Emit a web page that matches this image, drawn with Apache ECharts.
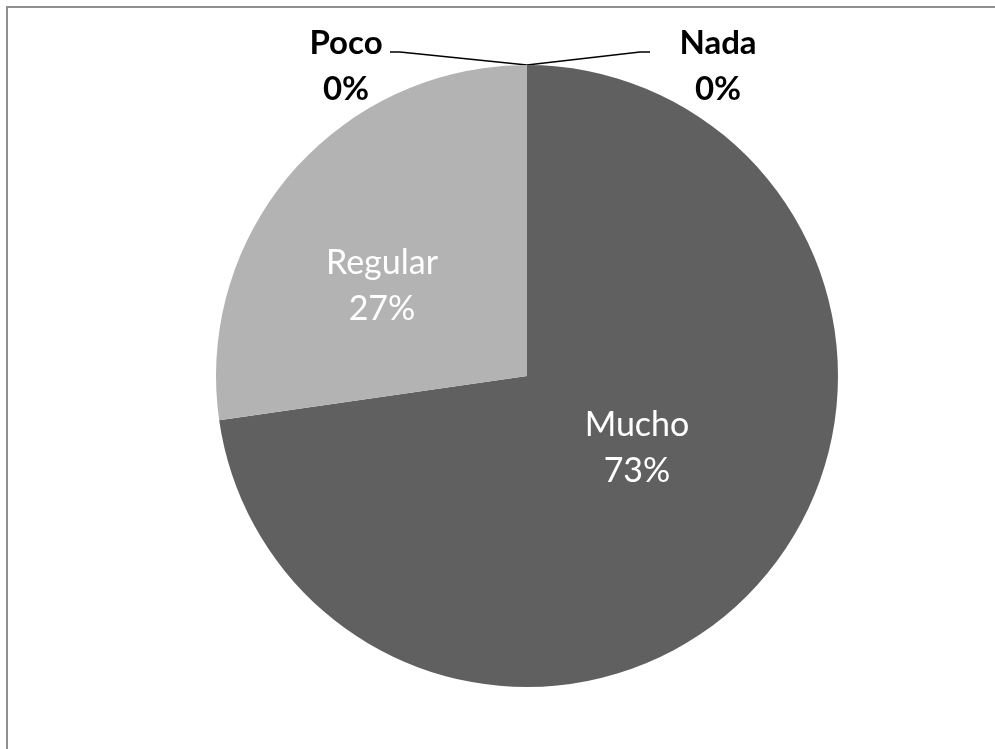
<!DOCTYPE html>
<html>
<head>
<meta charset="utf-8">
<script src="https://cdn.jsdelivr.net/npm/echarts@6/dist/echarts.min.js"></script>
<style>
  html, body { margin: 0; padding: 0; background: #ffffff; }
  #chart { width: 995px; height: 749px; }
</style>
</head>
<body>
<div id="chart"></div>
<script>
// Survey answers (number of responses), in the order the slices run clockwise from 12 o'clock
const categories = ['Nada', 'Mucho', 'Regular', 'Poco'];
const values = [0, 8, 3, 0];
const sliceColors = ['#4a4a4a', '#606060', '#b3b3b3', '#8a8a8a'];

// Pie geometry
const CX = 527, CY = 376, R = 311;

// Where each label block sits, as an offset from the pie centre
const labelOffsets = {
  Nada: [191, -310],
  Poco: [-181, -310],
  Regular: [-145, -90],
  Mucho: [110, 72]
};
// Outer end of the guide lines of the outside labels: [x offset, y offset, elbow direction]
const guideEnds = {
  Nada: [123, -324, -1],
  Poco: [-137, -324, 1]
};
const ELBOW = 10;

const FONT = 'Lato, "Open Sans", sans-serif';

function pct(p) {
  return p.name + '\n' + Math.round(p.percent) + '%';
}

const seriesData = categories.map(function (name, i) {
  const outside = !!guideEnds[name];
  return {
    name: name,
    value: values[i],
    itemStyle: { color: sliceColors[i], borderWidth: 0 },
    label: outside ? {
      show: true,
      position: 'outside',
      formatter: pct,
      color: '#000000',
      fontFamily: FONT,
      fontWeight: 'bold',
      fontSize: 33,
      lineHeight: 46
    } : {
      show: true,
      position: 'inside',
      formatter: pct,
      color: '#ffffff',
      fontFamily: FONT,
      fontWeight: 'normal',
      fontSize: 34,
      lineHeight: 46
    },
    labelLine: outside ? {
      show: true,
      length: 10,
      length2: 10,
      smooth: false,
      lineStyle: { color: '#000000', width: 1.6 }
    } : { show: false }
  };
});

const chart = echarts.init(document.getElementById('chart'), null, { renderer: 'canvas' });

chart.setOption({
  backgroundColor: '#ffffff',
  animation: false,
  graphic: [{
    type: 'rect',
    silent: true,
    shape: { x: 7, y: 7, width: 1400, height: 1200 },
    style: { fill: 'none', stroke: '#8f8f8f', lineWidth: 2 }
  }],
  series: [{
    type: 'pie',
    center: [CX, CY],
    radius: R,
    startAngle: 90,
    clockwise: true,
    avoidLabelOverlap: false,
    minShowLabelAngle: 0,
    emphasis: { disabled: true },
    data: seriesData,
    labelLayout: function (params) {
      const name = categories[params.dataIndex];
      const o = labelOffsets[name];
      const layout = {
        x: CX + o[0],
        y: CY + o[1],
        align: 'center',
        verticalAlign: 'middle'
      };
      const g = guideEnds[name];
      if (g) {
        // zero-size slices meet the rim at 12 o'clock
        const ex = CX + g[0], ey = CY + g[1];
        layout.labelLinePoints = [
          [CX, CY - R],
          [ex + g[2] * ELBOW, ey],
          [ex, ey]
        ];
      }
      return layout;
    }
  }]
});
</script>
</body>
</html>
